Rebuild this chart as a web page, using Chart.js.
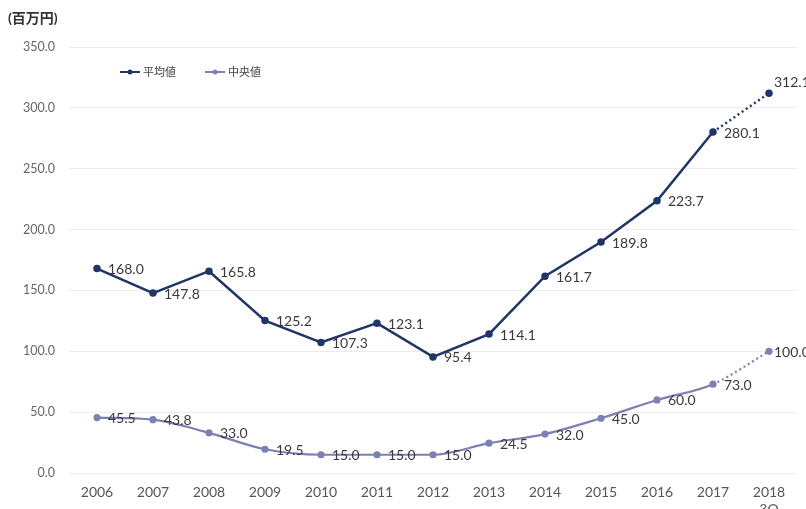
<!DOCTYPE html>
<html lang="ja">
<head>
<meta charset="utf-8">
<script src="https://cdn.jsdelivr.net/npm/chart.js@4"></script>
<style>
  html, body { margin: 0; padding: 0; background: #fff; }
  #wrap { width: 806px; height: 509px; }
</style>
</head>
<body>
<div id="wrap"><canvas id="myChart" width="806" height="509"></canvas></div>
<script>
// 年次（最後は2018年3Q）
const years = ["2006", "2007", "2008", "2009", "2010", "2011", "2012", "2013", "2014", "2015", "2016", "2017", ["2018", "3Q"]];
// 平均値（百万円）
const heikin = [168.0, 147.8, 165.8, 125.2, 107.3, 123.1, 95.4, 114.1, 161.7, 189.8, 223.7, 280.1, 312.1];
// 中央値（百万円）
const chuou = [45.5, 43.8, 33.0, 19.5, 15.0, 15.0, 15.0, 24.5, 32.0, 45.0, 60.0, 73.0, 100.0];
const yTicks = [0, 50, 100, 150, 200, 250, 300, 350];

const colorHeikin = "#1f3667";
const colorChuou = "#7d80b2";
const fontFamily = "Lato, 'Noto Sans CJK JP', sans-serif";

// 最後の区間（3Q）は点線
const lastDotted = (ctx) => (ctx.p1DataIndex === years.length - 1 ? [2, 3] : undefined);

// 各点の右側に値を表示
const valueLabels = {
  id: "valueLabels",
  afterDatasetsDraw(chart) {
    const c = chart.ctx;
    c.save();
    c.font = "14px " + fontFamily;
    c.fillStyle = "#3a3a3a";
    c.textAlign = "left";
    c.textBaseline = "middle";
    chart.data.datasets.forEach((ds, i) => {
      const last = ds.data.length - 1;
      chart.getDatasetMeta(i).data.forEach((pt, j) => {
        let dy = 1;
        let dx = 11;
        if (j === last) {
          dx = 5;
          if (i === 0) dy = -11;
        }
        c.fillText(ds.data[j].toFixed(1), pt.x + dx, pt.y + dy);
      });
    });
    c.restore();
  },
};

// 単位と凡例
const header = {
  id: "header",
  afterDraw(chart) {
    const c = chart.ctx;
    c.save();
    c.font = "bold 14px " + fontFamily;
    c.fillStyle = "#333";
    c.textBaseline = "middle";
    c.fillText("(百万円)", 8, 18);

    const items = [
      { text: "平均値", color: colorHeikin, x: 120 },
      { text: "中央値", color: colorChuou, x: 205 },
    ];
    c.font = "11px " + fontFamily;
    items.forEach((it) => {
      c.strokeStyle = it.color;
      c.fillStyle = it.color;
      c.lineWidth = 2;
      c.beginPath();
      c.moveTo(it.x, 72);
      c.lineTo(it.x + 20, 72);
      c.stroke();
      c.beginPath();
      c.arc(it.x + 10, 72, 2.5, 0, Math.PI * 2);
      c.fill();
      c.fillStyle = "#444";
      c.fillText(it.text, it.x + 23, 72);
    });
    c.restore();
  },
};

const ctx = document.getElementById("myChart");

new Chart(ctx, {
  type: "line",
  data: {
    labels: years,
    datasets: [
      {
        label: "平均値",
        data: heikin,
        borderColor: colorHeikin,
        backgroundColor: colorHeikin,
        borderWidth: 2.5,
        pointRadius: 2.5,
        tension: 0,
        segment: { borderDash: lastDotted },
      },
      {
        label: "中央値",
        data: chuou,
        borderColor: colorChuou,
        backgroundColor: colorChuou,
        borderWidth: 2.2,
        pointRadius: 2.5,
        cubicInterpolationMode: "monotone",
        segment: { borderDash: lastDotted },
      },
    ],
  },
  options: {
    responsive: false,
    animation: false,
    layout: { padding: { top: 47, right: 9, left: 0, bottom: 0 } },
    plugins: {
      legend: { display: false },
      tooltip: { enabled: false },
    },
    scales: {
      x: {
        offset: true,
        grid: { display: false },
        border: { display: false },
        ticks: {
          color: "#555",
          font: { family: fontFamily, size: 14 },
          padding: 3,
          maxRotation: 0,
          autoSkip: false,
        },
        afterFit: (scale) => {
          scale.height = 36;
        },
      },
      y: {
        min: 0,
        max: 350,
        afterBuildTicks: (scale) => {
          scale.ticks = yTicks.map((v) => ({ value: v }));
        },
        grid: { color: "#ececec", drawTicks: false },
        border: { display: false },
        ticks: {
          color: "#666",
          font: { family: fontFamily, size: 12.5 },
          padding: 14,
          callback: (v) => v.toFixed(1),
        },
        afterFit: (scale) => {
          scale.width = 69;
        },
      },
    },
  },
  plugins: [valueLabels, header],
});
</script>
</body>
</html>
